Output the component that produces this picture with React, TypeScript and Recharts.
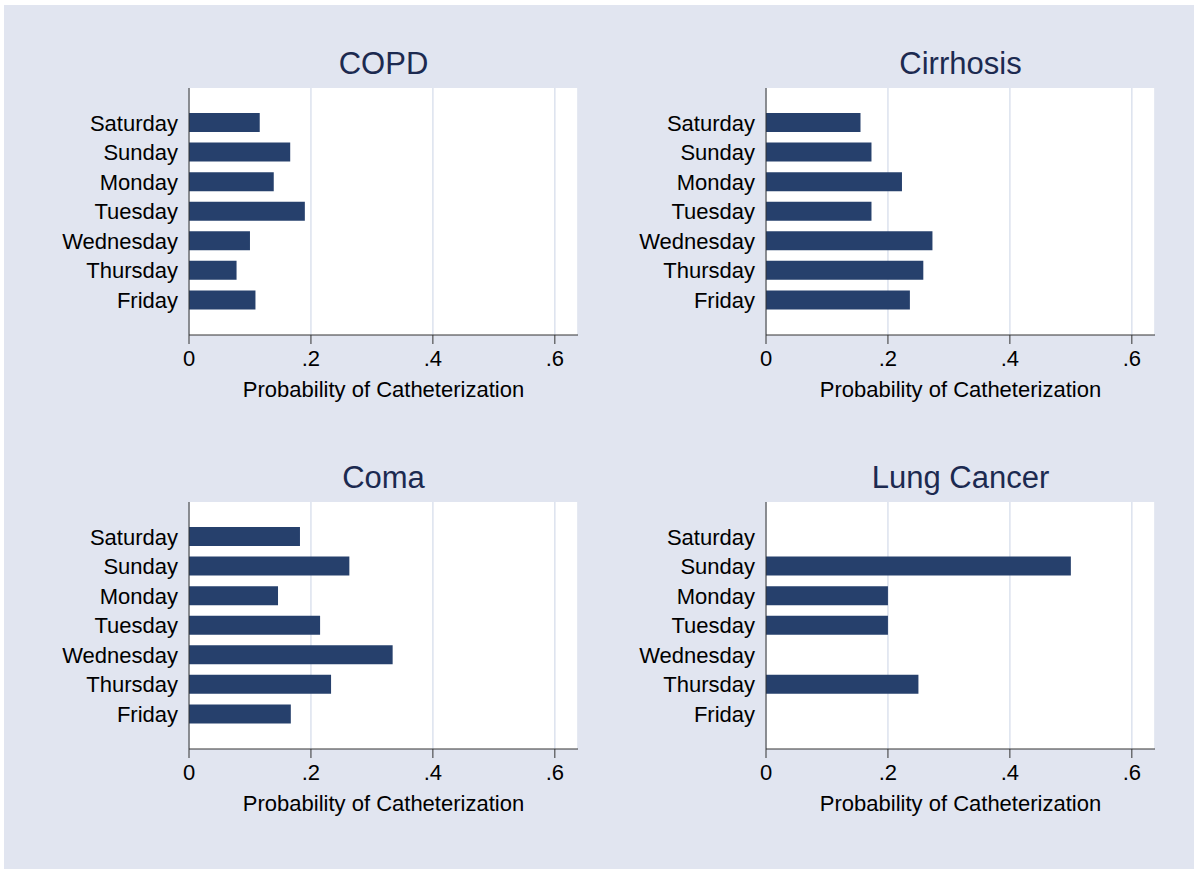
import { BarChart, Bar, XAxis, YAxis, CartesianGrid } from "recharts";

const DAYS = ["Saturday", "Sunday", "Monday", "Tuesday", "Wednesday", "Thursday", "Friday"];

const COPD = [0.116, 0.166, 0.139, 0.19, 0.1, 0.078, 0.109];
const CIRRHOSIS = [0.155, 0.173, 0.223, 0.173, 0.273, 0.258, 0.236];
const COMA = [0.182, 0.263, 0.146, 0.215, 0.334, 0.233, 0.167];
// no bar drawn for Saturday, Wednesday, Friday
const LUNG_CANCER: (number | null)[] = [null, 0.5, 0.2, 0.2, null, 0.25, null];

const X_TICKS = [0, 0.2, 0.4, 0.6];
const X_MAX = 0.638;
const X_TITLE = "Probability of Catheterization";

const FONT = '"Liberation Sans", Arial, Helvetica, sans-serif';
const BG = "#e1e5f0";
const BAR = "#26406c";
const TITLE_COLOR = "#1c2a50";

const PLOT_W = 389;
const PLOT_H = 247;
const Y_AXIS_W = 150;
const X_AXIS_H = 75;

function formatTick(v: number) {
  if (v === 0) return "0";
  return String(v).replace(/^0/, "");
}

interface PanelProps {
  title: string;
  values: (number | null)[];
  plotLeft: number;
  plotTop: number;
}

function Panel({ title, values, plotLeft, plotTop }: PanelProps) {
  const data = DAYS.map((day, i) => ({ day, value: values[i] }));

  return (
    <>
      <div
        style={{
          position: "absolute",
          left: plotLeft,
          top: plotTop - 40,
          width: PLOT_W,
          fontSize: 31,
          lineHeight: "31px",
          textAlign: "center",
          color: TITLE_COLOR,
          fontFamily: FONT,
        }}
      >
        {title}
      </div>
      <div style={{ position: "absolute", left: plotLeft - Y_AXIS_W, top: plotTop }}>
        <BarChart
          width={Y_AXIS_W + PLOT_W}
          height={PLOT_H + X_AXIS_H}
          data={data}
          layout="vertical"
          margin={{ top: 0, right: 0, left: 0, bottom: 0 }}
        >
          <CartesianGrid
            horizontal={false}
            stroke="#dce2ee"
            strokeWidth={1.5}
            fill="#ffffff"
            fillOpacity={1}
          />
          <XAxis
            type="number"
            domain={[0, X_MAX]}
            ticks={X_TICKS}
            tickFormatter={formatTick}
            height={X_AXIS_H}
            axisLine={{ stroke: "#333" }}
            tickLine={{ stroke: "#333" }}
            tickSize={9}
            tickMargin={6}
            tick={{ fontSize: 22, fill: "#000", fontFamily: FONT }}
            label={{
              content: (props: any) => {
                const vb = props.viewBox || {};
                return (
                  <text
                    x={vb.x + vb.width / 2}
                    y={vb.y + 62}
                    textAnchor="middle"
                    fontSize={22}
                    fill="#000"
                    fontFamily={FONT}
                  >
                    {X_TITLE}
                  </text>
                );
              },
            }}
          />
          <YAxis
            type="category"
            dataKey="day"
            width={Y_AXIS_W}
            padding={{ top: 20, bottom: 20 }}
            axisLine={{ stroke: "#333" }}
            tickLine={false}
            tickSize={0}
            tickMargin={11}
            interval={0}
            tick={{ fontSize: 22, fill: "#000", fontFamily: FONT }}
          />
          <Bar dataKey="value" fill={BAR} barSize={19} isAnimationActive={false} />
        </BarChart>
      </div>
    </>
  );
}

export default function App() {
  return (
    <div
      style={{
        position: "absolute",
        left: 0,
        top: 0,
        width: 1194,
        height: 869,
        background: "#fff",
        fontFamily: FONT,
      }}
    >
      <div style={{ position: "absolute", left: 4, top: 5, right: 0, bottom: 0, background: BG }} />
      <Panel title="COPD" values={COPD} plotLeft={189} plotTop={88} />
      <Panel title="Cirrhosis" values={CIRRHOSIS} plotLeft={766} plotTop={88} />
      <Panel title="Coma" values={COMA} plotLeft={189} plotTop={502} />
      <Panel title="Lung Cancer" values={LUNG_CANCER} plotLeft={766} plotTop={502} />
    </div>
  );
}
